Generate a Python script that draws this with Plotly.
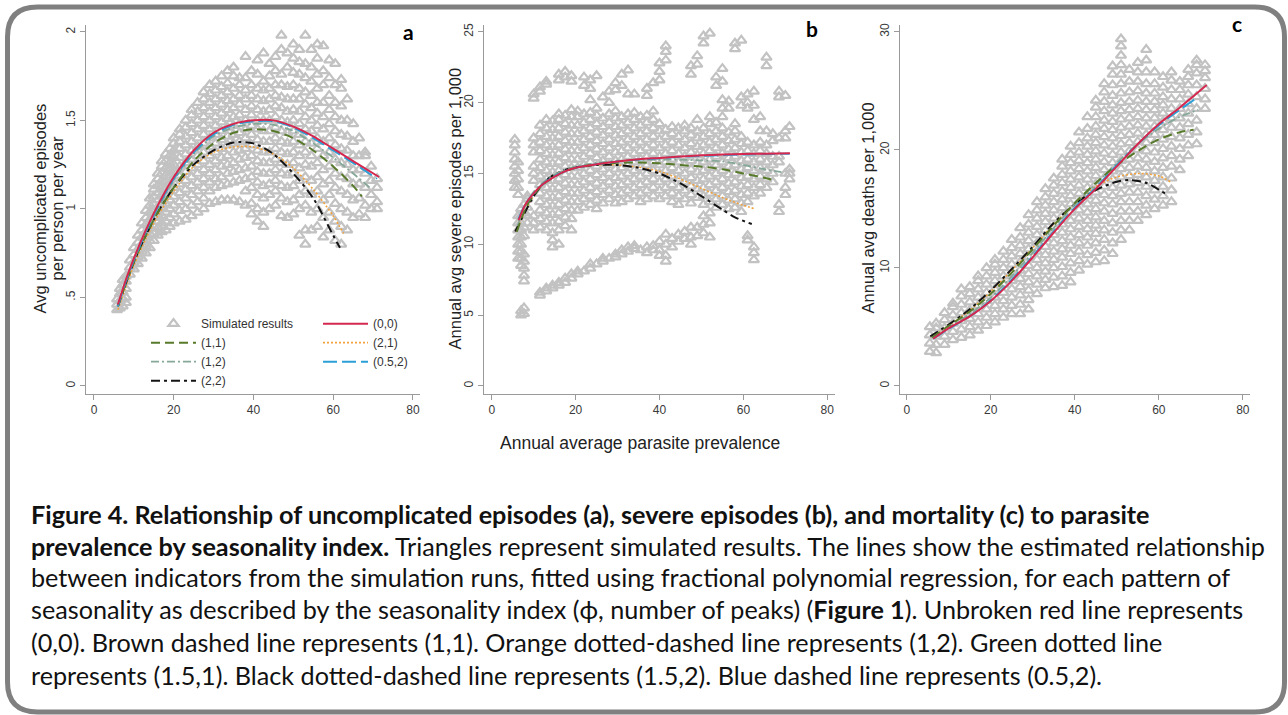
import plotly.graph_objects as go

W, H = 1288, 715

# ---------------------------------------------------------------------------
# Simulated results: (prevalence, [outcome values at that prevalence])
# ---------------------------------------------------------------------------
uncomp_cols = [
    (5.8, [0.43, 0.46, 0.49]),
    (6.5, [0.44, 0.48, 0.52, 0.55]),
    (7.2, [0.45, 0.49, 0.53, 0.57, 0.60]),
    (8.0, [0.47, 0.50, 0.55, 0.59, 0.62]),
    (9.0, [0.63, 0.67, 0.71]),
    (10.0, [0.66, 0.70, 0.74, 0.78]),
    (11.0, [0.69, 0.73, 0.77, 0.81, 0.85]),
    (12.0, [0.72, 0.76, 0.80, 0.84, 0.88, 0.92]),
    (13.0, [0.75, 0.79, 0.83, 0.87, 0.91, 0.95, 0.99]),
    (14.0, [0.78, 0.82, 0.86, 0.90, 0.94, 0.98, 1.02, 1.06]),
    (15.0, [0.82, 0.86, 0.90, 0.95, 0.99, 1.03, 1.07, 1.11, 1.14]),
    (16.0, [0.85, 0.89, 0.93, 0.97, 1.01, 1.05, 1.09, 1.13, 1.17, 1.20]),
    (17.0, [0.87, 0.92, 0.96, 1.00, 1.04, 1.08, 1.12, 1.16, 1.20, 1.24, 1.27]),
    (18.0, [0.88, 0.93, 0.98, 1.03, 1.07, 1.11, 1.15, 1.19, 1.23, 1.27, 1.31]),
    (19.0, [0.90, 0.95, 1.00, 1.05, 1.10, 1.14, 1.18, 1.22, 1.26, 1.30, 1.34]),
    (20.0, [0.92, 0.97, 1.02, 1.07, 1.12, 1.17, 1.21, 1.25, 1.29, 1.33, 1.37, 1.40]),
    (21.5, [0.93, 0.99, 1.04, 1.09, 1.14, 1.19, 1.24, 1.29, 1.34, 1.38, 1.42, 1.45]),
    (23.0, [0.94, 1.00, 1.06, 1.11, 1.16, 1.21, 1.26, 1.31, 1.36, 1.41, 1.46, 1.50]),
    (24.5, [0.96, 1.02, 1.08, 1.13, 1.18, 1.23, 1.28, 1.33, 1.38, 1.43, 1.48, 1.53, 1.56]),
    (26.0, [0.98, 1.04, 1.10, 1.15, 1.20, 1.25, 1.30, 1.35, 1.40, 1.45, 1.50, 1.55, 1.60]),
    (27.5, [1.00, 1.06, 1.12, 1.17, 1.22, 1.27, 1.32, 1.37, 1.42, 1.47, 1.52, 1.57, 1.62, 1.66]),
    (29.0, [1.03, 1.10, 1.15, 1.20, 1.25, 1.30, 1.35, 1.40, 1.45, 1.50, 1.55, 1.60, 1.65, 1.70]),
    (30.5, [1.04, 1.12, 1.17, 1.22, 1.27, 1.32, 1.37, 1.42, 1.47, 1.52, 1.57, 1.62, 1.67, 1.72]),
    (32.0, [1.05, 1.13, 1.18, 1.24, 1.29, 1.34, 1.39, 1.44, 1.49, 1.54, 1.59, 1.64, 1.69, 1.75]),
    (33.5, [1.05, 1.14, 1.20, 1.25, 1.30, 1.36, 1.41, 1.46, 1.51, 1.56, 1.61, 1.66, 1.71, 1.78]),
    (35.0, [1.05, 1.15, 1.21, 1.26, 1.32, 1.37, 1.42, 1.47, 1.52, 1.57, 1.62, 1.68, 1.75, 1.80]),
    (36.5, [1.04, 1.16, 1.22, 1.28, 1.33, 1.38, 1.43, 1.48, 1.53, 1.59, 1.64, 1.70, 1.74]),
    (38.0, [1.02, 1.10, 1.17, 1.23, 1.29, 1.34, 1.40, 1.45, 1.50, 1.56, 1.62, 1.67, 1.74, 1.86]),
    (39.5, [0.97, 1.03, 1.12, 1.18, 1.24, 1.30, 1.36, 1.42, 1.47, 1.53, 1.58, 1.64, 1.70, 1.78]),
    (41.0, [0.93, 1.00, 1.08, 1.15, 1.21, 1.27, 1.33, 1.39, 1.45, 1.50, 1.56, 1.62, 1.68, 1.76, 1.84]),
    (42.5, [0.90, 0.98, 1.06, 1.13, 1.20, 1.26, 1.32, 1.38, 1.44, 1.50, 1.55, 1.61, 1.67, 1.72, 1.88]),
    (44.0, [1.00, 1.08, 1.14, 1.20, 1.26, 1.32, 1.38, 1.44, 1.50, 1.56, 1.62, 1.68, 1.75, 1.82]),
    (45.5, [1.02, 1.10, 1.16, 1.22, 1.28, 1.34, 1.40, 1.46, 1.52, 1.58, 1.64, 1.70, 1.78, 1.86]),
    (47.0, [0.96, 1.06, 1.13, 1.20, 1.26, 1.32, 1.38, 1.44, 1.50, 1.57, 1.63, 1.70, 1.76, 1.90, 1.98]),
    (48.5, [0.95, 1.04, 1.12, 1.19, 1.25, 1.31, 1.37, 1.43, 1.49, 1.55, 1.62, 1.69, 1.80, 1.88]),
    (50.0, [0.97, 1.05, 1.13, 1.20, 1.26, 1.32, 1.38, 1.44, 1.50, 1.56, 1.62, 1.70, 1.77, 1.85, 1.93]),
    (51.5, [0.85, 1.00, 1.08, 1.16, 1.23, 1.30, 1.36, 1.42, 1.48, 1.55, 1.62, 1.68, 1.76, 1.83, 1.90]),
    (53.0, [0.80, 0.88, 1.02, 1.10, 1.18, 1.25, 1.32, 1.38, 1.45, 1.52, 1.59, 1.66, 1.74, 1.82, 1.98]),
    (54.5, [0.88, 0.98, 1.08, 1.16, 1.24, 1.30, 1.37, 1.44, 1.50, 1.57, 1.64, 1.72, 1.80, 1.90]),
    (56.0, [0.90, 1.00, 1.10, 1.18, 1.26, 1.34, 1.40, 1.47, 1.54, 1.60, 1.68, 1.76, 1.85, 1.93]),
    (57.5, [0.84, 0.95, 1.05, 1.14, 1.22, 1.30, 1.38, 1.45, 1.52, 1.60, 1.70, 1.78, 1.92]),
    (59.0, [0.88, 0.98, 1.08, 1.16, 1.24, 1.32, 1.40, 1.48, 1.56, 1.64, 1.74, 1.84]),
    (60.5, [0.82, 0.93, 1.03, 1.12, 1.20, 1.28, 1.36, 1.44, 1.52, 1.60, 1.70, 1.82]),
    (62.0, [0.80, 0.90, 1.00, 1.10, 1.18, 1.26, 1.34, 1.42, 1.50, 1.58, 1.68, 1.73]),
    (63.5, [0.88, 0.98, 1.08, 1.17, 1.25, 1.33, 1.41, 1.50, 1.62]),
    (65.0, [0.95, 1.05, 1.14, 1.22, 1.30, 1.38, 1.48]),
    (66.5, [0.97, 1.06, 1.14, 1.22, 1.30, 1.40]),
    (68.0, [0.95, 1.02, 1.12, 1.20, 1.30, 1.32]),
    (69.5, [1.00, 1.08, 1.16, 1.24]),
    (71.0, [1.00, 1.04, 1.12, 1.17]),
]

severe_cols = [
    (5.5, [14.0, 14.5, 15.0, 15.5, 16.0, 16.5, 17.0, 17.4]),
    (6.3, [9.0, 9.5, 10.0, 10.5, 11.0, 11.5, 12.0, 13.5, 14.0, 14.6, 15.2, 15.8]),
    (7.0, [5.0, 5.3, 8.5, 9.0, 9.5, 10.0, 10.5, 11.0, 11.5, 12.0, 12.5]),
    (7.7, [5.1, 5.5, 7.4, 7.8, 8.3, 8.8, 9.3, 10.6, 11.2, 12.2, 12.8]),
    (8.5, [11.5, 12.0, 12.6, 13.2, 13.4]),
    (10.0, [11.0, 11.5, 12.0, 14.5, 15.0, 15.5, 16.5, 17.0, 17.5, 20.3, 20.6]),
    (11.5, [6.4, 6.6, 11.2, 11.8, 12.4, 13.0, 13.6, 14.2, 14.8, 15.4, 16.0, 16.6, 17.2, 17.8, 18.4, 20.8, 21.1]),
    (13.0, [6.7, 6.9, 11.0, 11.6, 12.2, 12.8, 13.4, 14.0, 14.6, 15.2, 15.8, 16.4, 17.0, 17.6, 18.2, 18.8, 21.3, 21.5]),
    (14.5, [6.9, 7.1, 9.8, 10.3, 10.8, 11.5, 12.1, 12.7, 13.3, 13.9, 14.5, 15.1, 15.7, 16.3, 16.9, 17.5, 18.1, 18.7]),
    (16.0, [7.1, 7.3, 10.0, 11.0, 11.6, 12.2, 12.8, 13.4, 14.0, 14.6, 15.2, 15.8, 16.4, 17.0, 17.6, 18.2, 18.8, 19.2, 21.6, 22.0]),
    (17.5, [7.3, 7.6, 11.3, 11.9, 12.5, 13.1, 13.7, 14.3, 14.9, 15.5, 16.1, 16.7, 17.3, 17.9, 18.5, 19.1, 21.8, 22.2]),
    (19.0, [7.6, 7.9, 11.0, 11.8, 12.4, 13.0, 13.6, 14.2, 14.8, 15.4, 16.0, 16.6, 17.2, 17.8, 18.4, 19.0, 19.5, 21.5, 21.9]),
    (20.5, [7.9, 8.1, 12.4, 13.0, 13.6, 14.2, 14.8, 15.4, 16.0, 16.6, 17.2, 17.8, 18.4, 19.0, 19.4]),
    (22.0, [8.1, 12.6, 13.2, 13.8, 14.4, 15.0, 15.6, 16.2, 16.8, 17.4, 18.0, 18.6, 19.2, 21.2, 21.8]),
    (23.5, [8.3, 8.6, 12.8, 13.4, 14.0, 14.6, 15.2, 15.8, 16.4, 17.0, 17.6, 18.2, 18.8, 19.3, 20.2, 21.0, 21.6]),
    (25.0, [8.6, 12.5, 13.1, 13.7, 14.3, 14.9, 15.5, 16.1, 16.7, 17.3, 17.9, 18.5, 19.1, 19.6, 21.9]),
    (26.5, [8.8, 9.0, 12.9, 13.5, 14.1, 14.7, 15.3, 15.9, 16.5, 17.1, 17.7, 18.3, 18.9, 20.4]),
    (28.0, [9.0, 13.2, 13.8, 14.4, 15.0, 15.6, 16.2, 16.8, 17.4, 18.0, 18.6, 19.2, 20.0, 20.8]),
    (29.5, [9.1, 9.3, 12.9, 13.5, 14.1, 14.7, 15.3, 15.9, 16.5, 17.1, 17.7, 18.3, 18.9, 19.4, 20.9, 21.4]),
    (31.0, [9.3, 9.6, 13.0, 13.6, 14.2, 14.8, 15.4, 16.0, 16.6, 17.2, 17.8, 18.4, 19.0, 21.2, 22.0]),
    (32.5, [9.5, 9.8, 13.2, 13.8, 14.4, 15.0, 15.6, 16.2, 16.8, 17.4, 18.0, 18.6, 19.2, 20.6, 22.3]),
    (34.0, [9.7, 9.9, 13.4, 14.0, 14.6, 15.2, 15.8, 16.4, 17.0, 17.6, 18.2, 18.8, 19.3, 20.6]),
    (35.5, [9.6, 13.0, 13.6, 14.2, 14.8, 15.4, 16.0, 16.6, 17.2, 17.8, 18.4, 19.0]),
    (37.0, [9.4, 9.8, 13.2, 13.8, 14.4, 15.0, 15.6, 16.2, 16.8, 17.4, 18.0, 18.6, 19.1, 20.5, 21.0]),
    (38.5, [9.6, 9.9, 13.4, 14.0, 14.6, 15.2, 15.8, 16.4, 17.0, 17.6, 18.2, 18.8, 19.4, 21.4]),
    (40.0, [9.2, 9.6, 10.2, 13.2, 13.8, 14.4, 15.0, 15.6, 16.2, 16.8, 17.4, 18.0, 18.5, 21.6, 22.2, 22.8]),
    (41.5, [8.8, 9.2, 10.0, 10.7, 13.4, 14.0, 14.6, 15.2, 15.8, 16.4, 17.0, 17.6, 18.1, 23.0, 23.6, 24.0]),
    (43.0, [9.8, 10.4, 13.0, 13.6, 14.2, 14.8, 15.4, 16.0, 16.6, 17.2, 17.8, 18.3]),
    (44.5, [10.2, 10.7, 12.8, 13.4, 14.0, 14.6, 15.2, 15.8, 16.4, 17.0, 17.6, 18.2]),
    (46.0, [10.4, 10.9, 13.2, 13.8, 14.4, 15.0, 15.6, 16.2, 16.8, 17.4, 18.0, 18.4]),
    (47.5, [10.0, 10.5, 11.2, 12.9, 13.5, 14.1, 14.7, 15.3, 15.9, 16.5, 17.1, 17.7, 18.2, 22.0, 22.6]),
    (49.0, [10.6, 11.2, 13.3, 13.9, 14.5, 15.1, 15.7, 16.3, 16.9, 17.5, 18.0, 18.8, 22.7, 23.3]),
    (50.5, [10.8, 11.4, 12.0, 12.8, 13.4, 14.0, 14.6, 15.2, 15.8, 16.4, 17.0, 17.6, 18.2, 24.2, 24.7]),
    (52.0, [10.5, 11.5, 12.2, 13.0, 13.6, 14.2, 14.8, 15.4, 16.0, 16.6, 17.2, 17.8, 18.5, 19.0, 24.9]),
    (53.5, [12.6, 13.2, 13.8, 14.4, 15.0, 15.6, 16.2, 16.8, 17.4, 18.0, 18.6, 21.2, 21.8]),
    (55.0, [12.8, 13.4, 14.0, 14.6, 15.2, 15.8, 16.4, 17.0, 17.6, 18.2, 19.0, 19.6, 20.2, 21.5, 22.4]),
    (56.5, [12.5, 13.1, 13.7, 14.3, 14.9, 15.5, 16.1, 16.7, 17.3, 17.9, 19.6, 20.1]),
    (58.0, [12.6, 13.2, 13.8, 14.4, 15.0, 15.6, 16.2, 16.8, 17.4, 18.0, 18.5, 23.8, 24.2]),
    (59.5, [12.3, 12.9, 13.5, 14.1, 14.7, 15.3, 15.9, 16.5, 17.1, 17.6, 19.8, 20.4, 24.4]),
    (61.0, [10.3, 10.6, 13.0, 13.6, 14.2, 14.8, 15.4, 16.0, 16.6, 17.2, 19.6, 20.0, 20.6]),
    (62.5, [8.9, 9.4, 9.8, 13.4, 14.0, 14.6, 15.2, 15.8, 16.4, 17.0, 18.8, 19.8, 20.8]),
    (64.0, [13.6, 14.2, 14.8, 15.4, 16.0, 16.6, 17.2, 18.0, 19.0]),
    (65.5, [14.0, 14.6, 15.2, 15.8, 16.4, 17.0, 18.0, 22.6, 23.2]),
    (67.0, [14.4, 15.0, 15.6, 16.2, 17.3, 17.8]),
    (68.5, [12.3, 12.8, 15.8, 16.2, 17.5, 20.4, 20.8]),
    (70.0, [13.5, 14.0, 15.0, 17.5, 18.0, 20.5]),
    (71.0, [14.6, 15.0, 15.3, 18.3]),
]

deaths_cols = [
    (5.5, [2.9, 3.6, 4.3, 5.0]),
    (7.0, [2.8, 3.5, 4.2, 4.9, 5.3]),
    (9.0, [3.5, 4.2, 4.9, 5.6, 6.2]),
    (11.0, [3.9, 4.6, 5.3, 6.0, 6.7, 7.0]),
    (13.0, [4.1, 4.8, 5.5, 6.2, 6.9, 7.6, 8.2]),
    (15.0, [4.3, 5.0, 5.7, 6.4, 7.1, 7.8, 8.4]),
    (17.0, [4.7, 5.4, 6.1, 6.8, 7.5, 8.2, 8.9, 9.3]),
    (19.0, [5.1, 5.8, 6.5, 7.2, 7.9, 8.6, 9.3, 10.0]),
    (21.0, [5.4, 6.1, 6.8, 7.5, 8.2, 8.9, 9.6, 10.3, 10.7]),
    (23.0, [5.8, 6.5, 7.2, 7.9, 8.6, 9.3, 10.0, 10.7, 11.4]),
    (25.0, [6.1, 6.8, 7.5, 8.2, 8.9, 9.6, 10.3, 11.0, 11.7, 12.4]),
    (27.0, [6.1, 6.9, 7.7, 8.4, 9.1, 9.8, 10.5, 11.2, 11.9, 12.6, 13.4]),
    (29.0, [6.5, 7.3, 8.1, 8.8, 9.5, 10.2, 10.9, 11.6, 12.3, 13.0, 13.7, 14.5]),
    (31.0, [7.8, 8.6, 9.3, 10.0, 10.7, 11.4, 12.1, 12.8, 13.5, 14.2, 14.9, 15.6]),
    (33.0, [8.3, 9.0, 9.7, 10.4, 11.1, 11.8, 12.5, 13.2, 13.9, 14.6, 15.3, 16.0, 16.7]),
    (35.0, [8.4, 9.2, 10.0, 10.7, 11.4, 12.1, 12.8, 13.5, 14.2, 14.9, 15.6, 16.3, 17.0, 17.6]),
    (37.0, [8.5, 9.3, 10.1, 10.9, 11.6, 12.3, 13.0, 13.7, 14.4, 15.1, 15.8, 16.5, 17.2, 17.9, 18.6, 19.2]),
    (39.0, [8.8, 9.6, 10.4, 11.2, 11.9, 12.6, 13.3, 14.0, 14.7, 15.4, 16.1, 16.8, 17.5, 18.2, 18.9, 19.6, 20.3]),
    (41.0, [9.8, 10.6, 11.4, 12.1, 12.8, 13.5, 14.2, 14.9, 15.6, 16.3, 17.0, 17.7, 18.4, 19.1, 19.8, 20.6, 21.5]),
    (43.0, [10.3, 11.1, 11.9, 12.6, 13.3, 14.0, 14.7, 15.4, 16.1, 16.8, 17.5, 18.2, 18.9, 19.6, 20.3, 21.0, 21.8, 22.8]),
    (45.0, [10.5, 11.3, 12.1, 12.9, 13.6, 14.3, 15.0, 15.7, 16.4, 17.1, 17.8, 18.5, 19.2, 19.9, 20.6, 21.3, 22.0, 22.8, 23.6, 24.2]),
    (47.0, [10.6, 11.5, 12.4, 13.2, 14.0, 14.8, 15.5, 16.2, 16.9, 17.6, 18.3, 19.0, 19.7, 20.4, 21.1, 21.8, 22.5, 23.3, 24.1, 24.9, 25.6]),
    (49.0, [11.2, 12.1, 13.0, 13.8, 14.6, 15.4, 16.1, 16.8, 17.5, 18.2, 18.9, 19.6, 20.3, 21.0, 21.7, 22.4, 23.1, 23.8, 24.6, 25.5, 26.4, 27.1]),
    (51.0, [12.4, 13.2, 14.0, 14.8, 15.6, 16.3, 17.0, 17.7, 18.4, 19.1, 19.8, 20.5, 21.2, 21.9, 22.6, 23.3, 24.0, 24.8, 25.6, 26.4, 27.2, 28.0, 28.8, 29.4]),
    (53.0, [13.2, 14.0, 14.8, 15.6, 16.4, 17.1, 17.8, 18.5, 19.2, 19.9, 20.6, 21.3, 22.0, 22.7, 23.4, 24.1, 24.9, 25.8, 26.8]),
    (55.0, [14.0, 14.8, 15.6, 16.4, 17.2, 17.9, 18.6, 19.3, 20.0, 20.7, 21.4, 22.1, 22.8, 23.5, 24.2, 25.0, 25.8, 26.6, 27.4]),
    (57.0, [14.5, 15.3, 16.1, 16.9, 17.7, 18.5, 19.2, 19.9, 20.6, 21.3, 22.0, 22.7, 23.4, 24.1, 24.8, 25.6, 26.6, 27.6, 28.5]),
    (59.0, [15.0, 15.8, 16.6, 17.4, 18.2, 19.0, 19.8, 20.6, 21.3, 22.0, 22.7, 23.4, 24.1, 24.8, 25.6, 26.6]),
    (61.0, [15.3, 16.1, 16.9, 17.7, 18.5, 19.3, 20.1, 20.9, 21.7, 22.4, 23.1, 23.8, 24.5, 25.3, 26.2]),
    (63.0, [15.6, 16.6, 17.6, 18.6, 19.5, 20.3, 21.1, 21.9, 22.7, 23.5, 24.3, 25.1, 25.9, 26.6]),
    (65.0, [18.3, 19.2, 20.1, 21.0, 21.9, 22.7, 23.5, 24.3, 25.1, 25.8]),
    (67.0, [19.5, 20.4, 21.3, 22.2, 23.1, 23.9, 24.7, 25.5, 26.2, 26.8]),
    (69.0, [20.5, 21.5, 22.5, 23.5, 24.5, 25.5, 26.5, 27.2, 27.6]),
    (71.0, [23.5, 24.3, 25.2, 26.1, 26.7, 27.2]),
]

# ---------------------------------------------------------------------------
# Fractional-polynomial fits per seasonality pattern (phi, number of peaks)
# ---------------------------------------------------------------------------
uncomp_fit_x = {
    "(0,0)":   [6, 8, 10, 13, 16, 20, 25, 30, 35, 40, 45, 50, 55, 60, 65, 71.5],
    "(0.5,2)": [6, 8, 10, 13, 16, 20, 25, 30, 35, 40, 45, 50, 55, 60, 65, 71],
    "(1,2)":   [6, 8, 10, 13, 16, 20, 25, 30, 35, 40, 45, 50, 55, 60, 65, 69.7],
    "(1,1)":   [6, 8, 10, 13, 16, 20, 25, 30, 35, 40, 45, 50, 55, 60, 65, 67.2],
    "(2,1)":   [6, 8, 10, 13, 16, 20, 25, 30, 35, 40, 45, 50, 55, 60, 62.6],
    "(2,2)":   [6, 8, 10, 13, 16, 20, 25, 30, 35, 40, 45, 50, 55, 60, 61.7],
}
uncomp_fit_y = {
    "(0,0)":   [0.46, 0.60, 0.72, 0.88, 1.02, 1.18, 1.33, 1.43, 1.48, 1.50, 1.50, 1.465, 1.41, 1.34, 1.27, 1.18],
    "(0.5,2)": [0.45, 0.59, 0.71, 0.87, 1.01, 1.17, 1.32, 1.42, 1.475, 1.495, 1.495, 1.46, 1.40, 1.33, 1.26, 1.17],
    "(1,2)":   [0.45, 0.59, 0.71, 0.87, 1.00, 1.16, 1.31, 1.41, 1.46, 1.48, 1.475, 1.44, 1.37, 1.29, 1.20, 1.11],
    "(1,1)":   [0.45, 0.58, 0.70, 0.85, 0.98, 1.12, 1.27, 1.37, 1.43, 1.45, 1.44, 1.40, 1.33, 1.24, 1.13, 1.07],
    "(2,1)":   [0.43, 0.56, 0.68, 0.83, 0.96, 1.10, 1.24, 1.32, 1.35, 1.35, 1.31, 1.23, 1.11, 0.96, 0.86],
    "(2,2)":   [0.45, 0.58, 0.70, 0.85, 0.98, 1.12, 1.25, 1.33, 1.375, 1.37, 1.31, 1.20, 1.06, 0.85, 0.78],
}

severe_fit_x = {
    "(0,0)":   [6.4, 8, 10, 12, 14, 17, 20, 25, 30, 35, 40, 45, 50, 55, 60, 65, 71.1],
    "(0.5,2)": [6.4, 8, 10, 12, 14, 17, 20, 25, 30, 35, 40, 45, 50, 55, 60, 65, 71],
    "(1,2)":   [6.2, 8, 10, 12, 14, 17, 20, 25, 30, 35, 40, 45, 50, 55, 60, 65, 69.1],
    "(1,1)":   [6, 8, 10, 12, 14, 17, 20, 25, 30, 35, 40, 45, 50, 55, 60, 65, 67.8],
    "(2,1)":   [5.8, 8, 10, 12, 14, 17, 20, 25, 30, 35, 40, 45, 50, 55, 60, 62.8],
    "(2,2)":   [5.6, 8, 10, 12, 14, 17, 20, 25, 30, 35, 40, 45, 50, 55, 58, 62],
}
severe_fit_y = {
    "(0,0)":   [11.7, 12.8, 13.6, 14.2, 14.6, 15.1, 15.4, 15.65, 15.85, 16.0, 16.1, 16.2, 16.28, 16.34, 16.38, 16.4, 16.43],
    "(0.5,2)": [11.8, 12.8, 13.6, 14.2, 14.65, 15.1, 15.4, 15.65, 15.85, 15.98, 16.08, 16.18, 16.25, 16.3, 16.34, 16.37, 16.4],
    "(1,2)":   [11.3, 12.8, 13.7, 14.3, 14.75, 15.2, 15.5, 15.75, 15.9, 15.95, 15.98, 15.97, 15.93, 15.85, 15.6, 15.3, 15.1],
    "(1,1)":   [10.9, 12.5, 13.5, 14.15, 14.6, 15.1, 15.4, 15.65, 15.75, 15.78, 15.72, 15.6, 15.48, 15.3, 15.0, 14.7, 14.48],
    "(2,1)":   [10.9, 12.4, 13.45, 14.15, 14.7, 15.15, 15.4, 15.6, 15.6, 15.45, 15.15, 14.6, 13.95, 13.3, 12.75, 12.5],
    "(2,2)":   [10.9, 12.3, 13.4, 14.2, 14.75, 15.2, 15.45, 15.6, 15.6, 15.4, 15.0, 14.3, 13.4, 12.45, 11.9, 11.43],
}

deaths_fit_x = {
    "(0,0)":   [6.3, 10, 15, 20, 25, 30, 35, 40, 45, 50, 55, 60, 65, 71.4],
    "(0.5,2)": [6.3, 10, 15, 20, 25, 30, 35, 40, 45, 50, 55, 60, 65, 69.4],
    "(1,2)":   [6.3, 10, 15, 20, 25, 30, 35, 40, 45, 50, 55, 60, 65, 69.4],
    "(1,1)":   [6, 10, 15, 20, 25, 30, 35, 40, 45, 50, 55, 60, 65, 68.3],
    "(2,1)":   [6, 10, 15, 20, 25, 30, 35, 40, 45, 50, 55, 60, 62.7],
    "(2,2)":   [5.6, 10, 15, 20, 25, 30, 35, 40, 45, 50, 53, 57, 61.5],
}
deaths_fit_y = {
    "(0,0)":   [4.0, 4.9, 5.9, 7.2, 8.9, 10.9, 13.0, 15.0, 16.7, 18.6, 20.5, 22.2, 23.6, 25.5],
    "(0.5,2)": [4.0, 4.85, 5.9, 7.25, 9.0, 11.0, 13.1, 15.1, 16.8, 18.7, 20.5, 22.1, 23.4, 24.5],
    "(1,2)":   [4.1, 5.0, 6.1, 7.5, 9.3, 11.3, 13.4, 15.4, 17.1, 18.9, 20.5, 21.8, 22.8, 23.4],
    "(1,1)":   [4.1, 5.1, 6.3, 7.8, 9.6, 11.6, 13.6, 15.5, 17.2, 18.7, 19.9, 20.9, 21.5, 21.7],
    "(2,1)":   [4.1, 5.1, 6.4, 8.0, 9.8, 11.7, 13.7, 15.4, 16.9, 17.7, 18.0, 17.8, 17.3],
    "(2,2)":   [4.2, 5.2, 6.5, 8.1, 9.9, 11.8, 13.8, 15.4, 16.6, 17.3, 17.45, 17.2, 16.3],
}

# line styles and legend placement: (colour, dash, width, legend, rank)
series_style = {
    "(2,1)":   ("#f2a23c", "2px,2px", 1.6, "legend2", 2),
    "(2,2)":   ("#141414", "9px,4px,3px,4px", 2.0, "legend", 4),
    "(1,2)":   ("#86a898", "8px,3px,2px,3px", 1.8, "legend", 3),
    "(1,1)":   ("#587a2b", "9px,5px", 2.0, "legend", 2),
    "(0.5,2)": ("#2b9fd6", "14px,5px", 2.0, "legend2", 3),
    "(0,0)":   ("#d4284f", "solid", 2.0, "legend2", 1),
}

panels = [
    ("x", "y", uncomp_cols, uncomp_fit_x, uncomp_fit_y),
    ("x2", "y2", severe_cols, severe_fit_x, severe_fit_y),
    ("x3", "y3", deaths_cols, deaths_fit_x, deaths_fit_y),
]

fig = go.Figure()

for i, (xa, ya, cols, fx, fy) in enumerate(panels):
    px_, py_ = [], []
    for xv, ys in cols:
        for yv in ys:
            px_.append(xv)
            py_.append(yv)
    fig.add_trace(go.Scatter(
        x=px_, y=py_, xaxis=xa, yaxis=ya, mode="markers",
        name="Simulated results", legend="legend", legendrank=1,
        showlegend=(i == 0),
        marker=dict(symbol="triangle-up-open", size=9, color="#c2c2c2",
                    line=dict(width=2.2, color="#c2c2c2")),
    ))
    for key, (col, dash, lw, leg, rank) in series_style.items():
        fig.add_trace(go.Scatter(
            x=fx[key], y=fy[key], xaxis=xa, yaxis=ya, mode="lines",
            name=key, legend=leg, legendrank=rank, showlegend=(i == 0),
            line=dict(color=col, dash=dash, width=lw, shape="spline", smoothing=0.8),
        ))


def fx_(p):
    return p / W


def fy_(p):
    return 1 - p / H


axis_common = dict(
    showline=True, linecolor="#9a9a9a", linewidth=1.2, mirror=False,
    ticks="outside", ticklen=5, tickwidth=1, tickcolor="#9a9a9a",
    showgrid=False, zeroline=False,
    tickfont=dict(family="Liberation Sans, Arial, sans-serif", size=12, color="#3a3a3a"),
)
x_ticks = dict(tickvals=[0, 20, 40, 60, 80], ticktext=["0", "20", "40", "60", "80"])

y_top, y_bot = 23, 393
fig.update_layout(
    xaxis=dict(domain=[fx_(86), fx_(420)], range=[-2.0, 81.76], anchor="y", **x_ticks, **axis_common),
    yaxis=dict(domain=[fy_(y_bot), fy_(y_top)], range=[-0.045, 2.039], anchor="x",
               tickvals=[0, 0.5, 1, 1.5, 2], ticktext=["0", ".5", "1", "1.5", "2"],
               tickangle=-90, **axis_common),
    xaxis2=dict(domain=[fx_(484), fx_(835)], range=[-1.84, 81.84], anchor="y2", **x_ticks, **axis_common),
    yaxis2=dict(domain=[fy_(y_bot), fy_(y_top)], range=[-0.563, 25.49], anchor="x2",
                tickvals=[0, 5, 10, 15, 20, 25], ticktext=["0", "5", "10", "15", "20", "25"],
                tickangle=-90, **axis_common),
    xaxis3=dict(domain=[fx_(900), fx_(1250)], range=[-1.6, 81.7], anchor="y3", **x_ticks, **axis_common),
    yaxis3=dict(domain=[fy_(y_bot), fy_(y_top)], range=[-0.676, 30.59], anchor="x3",
                tickvals=[0, 10, 20, 30], ticktext=["0", "10", "20", "30"],
                tickangle=-90, **axis_common),
)

legend_common = dict(
    xanchor="left", yanchor="top", bgcolor="rgba(0,0,0,0)", borderwidth=0,
    font=dict(family="Liberation Sans, Arial, sans-serif", size=12, color="#333333"),
    itemwidth=45, tracegroupgap=0, traceorder="normal",
)
fig.update_layout(
    width=W, height=H,
    margin=dict(l=0, r=0, t=0, b=0),
    paper_bgcolor="white", plot_bgcolor="white",
    legend=dict(x=fx_(146), y=fy_(308), **legend_common),
    legend2=dict(x=fx_(318), y=fy_(308), **legend_common),
)

# rounded frame around the whole figure
x0, x1, y0, y1, r = 7.5, 1284.5, 5.0, 712.0, 30.0
frame = (
    f"M {fx_(x0 + r)} {fy_(y0)} L {fx_(x1 - r)} {fy_(y0)} "
    f"Q {fx_(x1)} {fy_(y0)} {fx_(x1)} {fy_(y0 + r)} "
    f"L {fx_(x1)} {fy_(y1 - r)} Q {fx_(x1)} {fy_(y1)} {fx_(x1 - r)} {fy_(y1)} "
    f"L {fx_(x0 + r)} {fy_(y1)} Q {fx_(x0)} {fy_(y1)} {fx_(x0)} {fy_(y1 - r)} "
    f"L {fx_(x0)} {fy_(y0 + r)} Q {fx_(x0)} {fy_(y0)} {fx_(x0 + r)} {fy_(y0)} Z"
)
fig.add_shape(type="path", path=frame, xref="paper", yref="paper",
              line=dict(color="#808080", width=5), fillcolor="rgba(0,0,0,0)")

arial = "Liberation Sans, Arial, sans-serif"
cap_font = "Lato, Carlito, Calibri, sans-serif"


def note(text, x, y, size, family=arial, color="#222222", angle=0, xanchor="center"):
    fig.add_annotation(
        text=text, x=fx_(x), y=fy_(y), xref="paper", yref="paper",
        showarrow=False, textangle=angle, xanchor=xanchor, yanchor="middle",
        font=dict(family=family, size=size, color=color),
    )


# axis titles
note("Avg uncomplicated episodes", 40, 207, 16.5, angle=-90)
note("per person per year", 57, 207, 16.5, angle=-90)
note("Annual avg severe episodes per 1,000", 455, 207, 16.5, angle=-90)
note("Annual avg deaths per 1,000", 868, 207, 16.5, angle=-90)
note("Annual average parasite prevalence", 640, 442, 17.5)

# panel letters
note("<b>a</b>", 408, 30, 21, family=cap_font, color="#000000")
note("<b>b</b>", 812, 27, 21, family=cap_font, color="#000000")
note("<b>c</b>", 1237, 22, 21, family=cap_font, color="#000000")

# caption
caption_lines = [
    "<b>Figure 4. Relationship of uncomplicated episodes (a), severe episodes (b), and mortality (c) to parasite</b>",
    "<b>prevalence by seasonality index.</b> Triangles represent simulated results. The lines show the estimated relationship",
    "between indicators from the simulation runs, fitted using fractional polynomial regression, for each pattern of",
    "seasonality as described by the seasonality index (\u03d5, number of peaks) (<b>Figure 1</b>). Unbroken red line represents",
    "(0,0). Brown dashed line represents (1,1). Orange dotted-dashed line represents (1,2). Green dotted line",
    "represents (1.5,1). Black dotted-dashed line represents (1.5,2). Blue dashed line represents (0.5,2).",
]
caption_y = [513, 546, 577, 609, 642, 675]
for line, yy in zip(caption_lines, caption_y):
    note(line, 29, yy, 25.2, family=cap_font, color="#111111", xanchor="left")

fig.write_html("out.html")
